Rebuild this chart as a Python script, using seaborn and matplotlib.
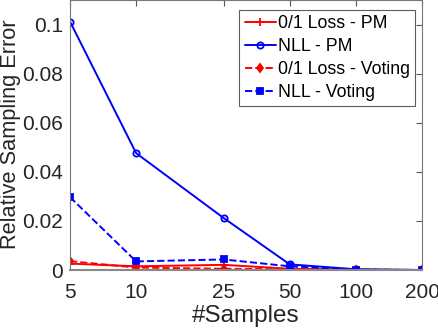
import matplotlib
matplotlib.use('Agg')
import matplotlib.pyplot as plt
import seaborn as sns
import pandas as pd
from matplotlib.ticker import FixedLocator, NullLocator, FixedFormatter

samples = [5, 10, 25, 50, 100, 200]
loss01_pm = [0.0026, 0.0015, 0.0021, 0.0005, 0.0001, 0.0]
nll_pm = [0.1012, 0.0476, 0.0212, 0.0023, 0.0003, 0.0]
loss01_voting = [0.0036, 0.0010, 0.0005, 0.0003, 0.0001, 0.0]
nll_voting = [0.0297, 0.0035, 0.0043, 0.0015, 0.0002, 0.0]

series = [
    ('0/1 Loss - PM', loss01_pm, 'red', '-', '+'),
    ('NLL - PM', nll_pm, 'blue', '-', 'o'),
    ('0/1 Loss - Voting', loss01_voting, 'red', '--', 'd'),
    ('NLL - Voting', nll_voting, 'blue', '--', 's'),
]

sns.set_style('white')
plt.rcParams['font.family'] = ['Liberation Sans', 'DejaVu Sans']
text_col = '#262626'

fig = plt.figure(figsize=(4.38, 3.30), dpi=100)
ax = fig.add_axes([70/438, 60/330, 352/438, 270/330])

handles = []
for name, vals, col, ls, mk in series:
    df = pd.DataFrame({'samples': samples, 'err': vals})
    sns.lineplot(data=df, x='samples', y='err', ax=ax, color=col, legend=False)
    ln = ax.lines[-1]
    ln.set_linestyle(ls)
    ln.set_linewidth(1.4)
    ln.set_marker(mk)
    ln.set_markersize(4.5 if mk != '+' else 6)
    ln.set_markeredgecolor(col)
    ln.set_markerfacecolor('none' if mk == 'o' else col)
    ln.set_markeredgewidth(1.3)
    ln.set_label(name)
    handles.append(ln)

ax.set_xscale('log')
ax.set_xlim(5, 200)
ax.set_ylim(0, 0.11)
ax.xaxis.set_major_locator(FixedLocator(samples))
ax.xaxis.set_major_formatter(FixedFormatter([str(s) for s in samples]))
ax.xaxis.set_minor_locator(NullLocator())
ax.set_yticks([0, 0.02, 0.04, 0.06, 0.08, 0.1])
ax.set_yticklabels(['0', '0.02', '0.04', '0.06', '0.08', '0.1'])

ax.tick_params(direction='in', length=4, width=0.8, colors='#555555',
               labelcolor=text_col, labelsize=15, top=True, right=True)
ax.tick_params(axis='x', pad=9)
ax.tick_params(axis='y', pad=5)
for s in ax.spines.values():
    s.set_color('#777777')
    s.set_linewidth(0.8)
ax.spines['bottom'].set_linewidth(1.5)
ax.spines['bottom'].set_color('#888888')

ax.set_xlabel('#Samples', fontsize=17.5, color=text_col)
ax.set_ylabel('Relative Sampling Error', fontsize=15.7, color=text_col)
ax.xaxis.set_label_coords(0.5, -0.13)
ax.yaxis.set_label_coords(-0.138, 0.504)

leg = ax.legend(handles=handles, loc='upper right', bbox_to_anchor=(0.985, 0.97),
                fontsize=12.8, frameon=True, fancybox=False, handlelength=1.75,
                handletextpad=0.1, borderpad=0.3, labelspacing=0.33,
                borderaxespad=0.1)
leg.get_frame().set_edgecolor('#333333')
leg.get_frame().set_linewidth(0.8)
for t in leg.get_texts():
    t.set_color('black')

fig.savefig('out.png', dpi=100)
